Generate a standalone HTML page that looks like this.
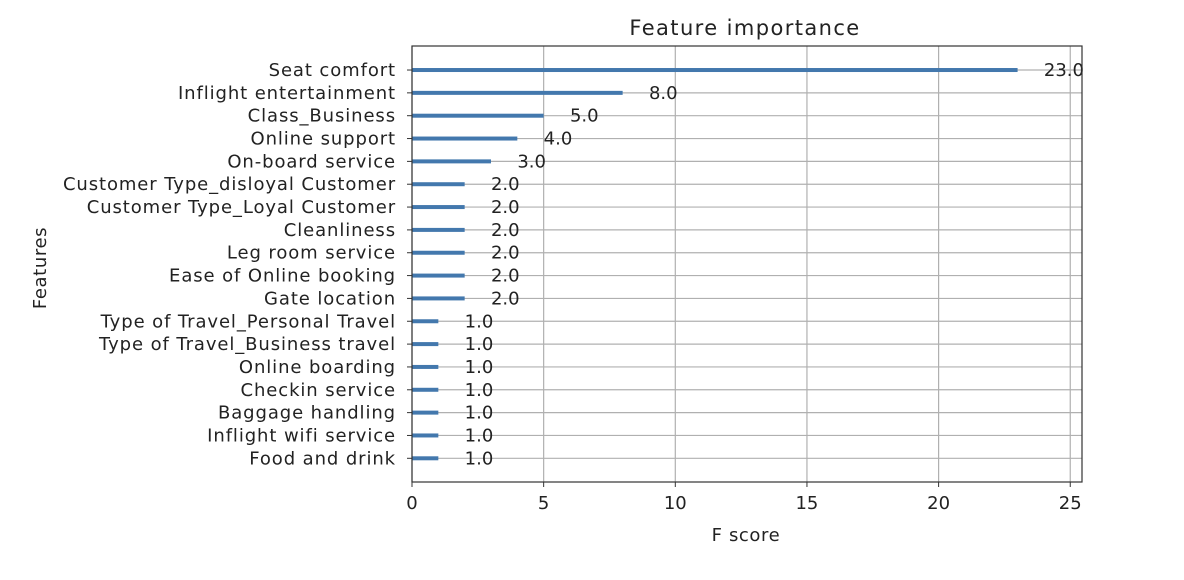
<!DOCTYPE html>
<html><head><meta charset="utf-8"><style>
body{margin:0;background:#fff;}
svg{display:block;font-family:"DejaVu Sans","Liberation Sans",sans-serif;}
</style></head><body>
<svg id="chart" width="1184" height="580">
<g id="grid"></g>
<g id="bars"></g>
<g id="labels"></g>
<rect x="412" y="46" width="670" height="436" fill="none" stroke="#333" stroke-width="1.2"/>
<text x="745" y="35" font-size="21" letter-spacing="1.4" text-anchor="middle" fill="#222">Feature importance</text>
<text x="746" y="541" font-size="18" letter-spacing="0.6" text-anchor="middle" fill="#222">F score</text>
<text transform="translate(46,268) rotate(-90)" font-size="18" letter-spacing="0.6" text-anchor="middle" fill="#222">Features</text>
</svg>
<script>
const categories=["Food and drink","Inflight wifi service","Baggage handling","Checkin service","Online boarding","Type of Travel_Business travel","Type of Travel_Personal Travel","Gate location","Ease of Online booking","Leg room service","Cleanliness","Customer Type_Loyal Customer","Customer Type_disloyal Customer","On-board service","Online support","Class_Business","Inflight entertainment","Seat comfort"];
const values=[1,1,1,1,1,1,1,2,2,2,2,2,2,3,4,5,8,23];
const xTicks=[0,5,10,15,20,25];
const NS="http://www.w3.org/2000/svg";
const x0=412,xs=26.33;
function X(v){return x0+v*xs;}
function Y(i){return 458.3-i*22.84;}
function mk(t,a,p){const e=document.createElementNS(NS,t);for(const k in a)e.setAttribute(k,a[k]);p.appendChild(e);return e;}
const grid=document.getElementById('grid'),bars=document.getElementById('bars'),labels=document.getElementById('labels');
xTicks.forEach(t=>{
 const l=mk('line',{x1:X(t),x2:X(t),y1:46,y2:482,stroke:'#b0b0b0','stroke-width':1.2},grid);
 
 
 const tk=mk('line',{x1:X(t),x2:X(t),y1:482,y2:487,stroke:'#333'},labels);
 
 
 const tx=mk('text',{x:X(t),y:509,'font-size':18,'text-anchor':'middle',fill:'#222'},labels);
 tx.textContent=t;
 
 
});
categories.forEach((c,i)=>{
 const y=Y(i);
 const g=mk('line',{x1:412,x2:1082,y1:y,y2:y,stroke:'#b0b0b0','stroke-width':1.2},grid);
 
 
 const b=mk('rect',{x:x0,y:y-2,width:values[i]*xs,height:4,fill:'#4378ad'},bars);
 
 
 const tk=mk('line',{x1:407,x2:412,y1:y,y2:y,stroke:'#333'},labels);
 
 
 const tl=mk('text',{x:396,y:y+6,'font-size':18,'letter-spacing':0.9,'text-anchor':'end',fill:'#222'},labels);
 tl.textContent=c;
 
 
 const vl=mk('text',{x:X(values[i]+1),y:y+6,'font-size':18,fill:'#222'},labels);
 vl.textContent=values[i].toFixed(1);
 
 
});
</script>
</body></html>
